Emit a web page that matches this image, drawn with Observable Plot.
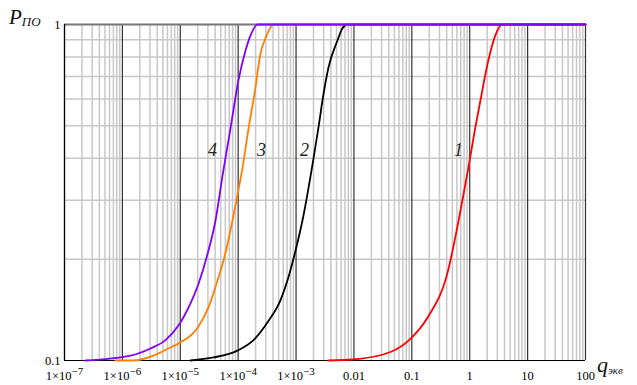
<!DOCTYPE html>
<html><head><meta charset="utf-8">
<script src="https://cdn.jsdelivr.net/npm/d3@7"></script>
<script src="https://cdn.jsdelivr.net/npm/@observablehq/plot@0.6"></script>
<style>
html,body{margin:0;padding:0;background:#fff;}
#chart{width:637px;height:385px;}
</style></head>
<body><div id="chart"></div>
<script>
// Curve 1 (red)
const q1 = [0.0036, 0.0098, 0.0427, 0.0946, 0.186, 0.412, 0.692, 0.95, 1.25, 1.53, 2.09, 2.76, 3.67, 100];
const p1 = [0.1, 0.1007, 0.106, 0.116, 0.134, 0.182, 0.279, 0.375, 0.494, 0.594, 0.78, 0.927, 1, 1];
// Curve 2 (black)
const q2 = [1.5e-5, 3.74e-5, 9.7e-5, 1.84e-4, 3.33e-4, 5.37e-4, 7.1e-4, 9.77e-4, 1.29e-3, 2.0e-3, 2.44e-3, 2.86e-3, 3.63e-3, 5.19e-3, 6.3e-3, 7.7e-3, 100];
const p2 = [0.1, 0.1021, 0.107, 0.115, 0.131, 0.151, 0.173, 0.212, 0.261, 0.399, 0.494, 0.594, 0.745, 0.896, 0.973, 1, 1];
// Curve 3 (orange)
const q3 = [7.6e-7, 1.55e-6, 3.44e-6, 6.25e-6, 9.3e-6, 1.98e-5, 3.07e-5, 4.39e-5, 5.57e-5, 7.98e-5, 9.33e-5, 1.19e-4, 1.51e-4, 1.99e-4, 2.43e-4, 2.96e-4, 4.07e-4, 100];
const p3 = [0.1, 0.1, 0.1034, 0.1086, 0.1124, 0.125, 0.144, 0.173, 0.198, 0.261, 0.299, 0.375, 0.49, 0.649, 0.82, 0.909, 1, 1];
// Curve 4 (purple)
const q4 = [2.3e-7, 1.38e-6, 3.06e-6, 5.55e-6, 9.3e-6, 1.5e-5, 2.06e-5, 2.9e-5, 4.06e-5, 5.37e-5, 7.36e-5, 1.01e-4, 1.34e-4, 1.63e-4, 2.15e-4, 100];
const p4 = [0.1, 0.1034, 0.1086, 0.115, 0.127, 0.148, 0.169, 0.205, 0.261, 0.355, 0.49, 0.681, 0.837, 0.927, 1, 1];

const curveNames = ["1", "2", "3", "4"];
const curveColors = ["#ff0000", "#000000", "#ff8000", "#8000ff"];
const labelQ = [0.64, 1.4e-3, 2.52e-4, 3.6e-5];
const labelP = [0.422, 0.422, 0.422, 0.422];

const xDecades = [1e-7, 1e-6, 1e-5, 1e-4, 1e-3, 0.01, 0.1, 1, 10, 100];
const xTickLabels = ["1×10^−7", "1×10^−6", "1×10^−5", "1×10^−4", "1×10^−3", "0.01", "0.1", "1", "10", "100"];
const yGrid = [0.2, 0.3, 0.4, 0.5, 0.6, 0.7, 0.8, 0.9];
const yTicks = [0.1, 1];
const yTickLabels = ["0.1", "1"];

const qs = [q1, q2, q3, q4], ps = [p1, p2, p3, p4];
const rows = [];
qs.forEach((q, i) => q.forEach((v, j) => rows.push({q: v, p: ps[i][j], c: curveNames[i]})));
const labels = curveNames.map((n, i) => ({q: labelQ[i], p: labelP[i], t: n}));

const xMinor = d3.scaleLog().domain([1e-7, 100]).ticks().filter(v => !xDecades.some(d => Math.abs(d - v) / d < 1e-6));

const font = "'Liberation Serif', 'Times New Roman', serif";
const plot = Plot.plot({
  width: 637, height: 385,
  marginLeft: 64, marginRight: 52, marginTop: 24, marginBottom: 25,
  style: {fontFamily: font, fontSize: "12px", background: "#fff", color: "#000"},
  x: {type: "log", domain: [1e-7, 100], label: null},
  y: {type: "log", domain: [0.1, 1], label: null},
  color: {domain: curveNames, range: curveColors},
  marks: [
    Plot.gridX(xMinor, {stroke: "#c8c8c8", strokeOpacity: 1, strokeWidth: 1.5}),
    Plot.gridY(yGrid, {stroke: "#c8c8c8", strokeOpacity: 1, strokeWidth: 1.5}),
    Plot.gridX(xDecades, {stroke: "#333", strokeOpacity: 1, strokeWidth: 1.2}),
    Plot.ruleY([1], {stroke: "#777", strokeWidth: 2}),
    Plot.ruleY([0.1], {stroke: "#000", strokeWidth: 1.2}),
    Plot.ruleX([1e-7], {stroke: "#000", strokeWidth: 1.2}),
    Plot.axisX(xDecades, {tickSize: 0, tickPadding: 11, fontSize: 12.5, label: null,
      tickFormat: (d) => xTickLabels[xDecades.indexOf(d)]}),
    Plot.axisY(yTicks, {tickSize: 0, tickPadding: 4, fontSize: 12.5, label: null,
      tickFormat: d => yTickLabels[yTicks.indexOf(d)]}),
    Plot.line(rows, {x: "q", y: "p", z: "c", stroke: "c", strokeWidth: 1.8, curve: "monotone-x"}),
    Plot.text(labels, {x: "q", y: "p", text: "t", fontSize: 18, fontStyle: "italic", fill: "#222"})
  ]
});
document.getElementById("chart").appendChild(plot);

// superscripts in tick labels
d3.select(plot).selectAll("text").each(function() {
  const t = this.textContent;
  if (t.includes("^")) {
    const [base, exp] = t.split("^");
    const sel = d3.select(this);
    const target = sel.select("tspan").empty() ? sel : sel.select("tspan");
    target.text(null);
    target.append("tspan").text(base);
    target.append("tspan").attr("dy", "-0.45em").attr("font-size", "11px").text(exp);
  }
});

// axis titles
const svg = d3.select(plot);
const pt = svg.append("text").attr("x", 9).attr("y", 24).attr("text-anchor", "start")
  .attr("font-family", font).attr("font-style", "italic").attr("fill", "#111");
pt.append("tspan").attr("font-size", "21px").text("P");
pt.append("tspan").attr("font-size", "13px").attr("dy", "2").text("ПО");
const qt = svg.append("text").attr("x", 597).attr("y", 372).attr("text-anchor", "start")
  .attr("font-family", font).attr("font-style", "italic").attr("fill", "#111");
qt.append("tspan").attr("font-size", "22px").text("q");
qt.append("tspan").attr("font-size", "11px").attr("dy", "2").text("экв");
</script>
</body></html>
